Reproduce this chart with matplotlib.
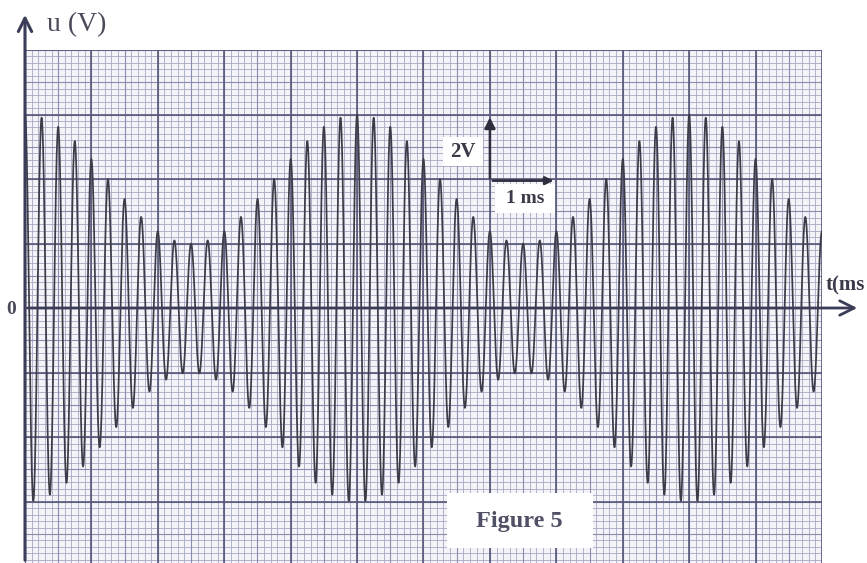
import numpy as np
import matplotlib
matplotlib.use("Agg")
import matplotlib.pyplot as plt
from matplotlib.patches import Rectangle

# ---- values ----
u_max = 6.0            # V, largest crest of the envelope
u_min = 2.0            # V, smallest crest of the envelope
carrier_period = 0.25  # ms (4 crests per major division)
mod_period = 5.0       # ms (envelope maxima at 0, 5, 10 ms)
t_end = 12.0           # ms, width of the paper
scale_v = 2.0          # V per major vertical division
scale_t = 1.0          # ms per major horizontal division

A = (u_max + u_min) / 2
m = (u_max - u_min) / (u_max + u_min)
t = np.linspace(0, t_end, 20000)
u = A * (1 + m * np.cos(2 * np.pi * t / mod_period)) * np.cos(2 * np.pi * t / carrier_period)

W, H = 867, 563
fig = plt.figure(figsize=(W / 100, H / 100), dpi=100)
fig.patch.set_facecolor("white")
ax = fig.add_axes([25 / W, 0, 797 / W, 513 / H])
ax.set_xlim(0, t_end)
ax.set_ylim(-7.9, 8)
ax.set_facecolor("#f4f3f8")
for s in ax.spines.values():
    s.set_visible(False)
ax.set_xticks([]); ax.set_yticks([])

# graph paper
xs_minor = np.arange(0, t_end + 1e-9, 0.1)
ys_minor = np.arange(-8, 8 + 1e-9, 0.2)
ax.vlines(xs_minor, -8, 8, color="#a6a8c4", lw=0.6, zorder=1)
ax.hlines(ys_minor, 0, t_end, color="#a6a8c4", lw=0.6, zorder=1)
ax.vlines(np.arange(0, t_end + 1e-9, 0.5), -8, 8, color="#8a8cae", lw=0.8, zorder=1)
ax.hlines(np.arange(-8, 8 + 1e-9, 1.0), 0, t_end, color="#8a8cae", lw=0.8, zorder=1)
ax.vlines(np.arange(0, t_end + 1e-9, 1.0), -8, 8, color="#555878", lw=1.2, zorder=1)
ax.hlines(np.arange(-8, 8 + 1e-9, 2.0), 0, t_end, color="#555878", lw=1.2, zorder=1)

# signal
ax.plot(t, u, color="#3c3c48", lw=1.25, zorder=3)

# scale marker
ax.annotate("", xy=(7.0, 6.0), xytext=(7.0, 3.95),
            arrowprops=dict(arrowstyle="-|>", lw=1.8, color="#2e2e3e", mutation_scale=16), zorder=6)
ax.annotate("", xy=(8.0, 3.95), xytext=(7.0, 3.95),
            arrowprops=dict(arrowstyle="-|>", lw=1.8, color="#2e2e3e", mutation_scale=12), zorder=6)
ax.add_patch(Rectangle((6.3, 4.4), 0.6, 0.9, facecolor="white", edgecolor="none", zorder=5))
ax.text(6.6, 4.84, "%gV" % scale_v, ha="center", va="center", fontsize=15, fontweight="bold",
        family="Liberation Serif", color="#3a3a48", zorder=7)
ax.add_patch(Rectangle((7.08, 2.95), 0.9, 0.9, facecolor="white", edgecolor="none", zorder=5))
ax.text(7.53, 3.4, "%g ms" % scale_t, ha="center", va="center", fontsize=14, fontweight="bold",
        family="Liberation Serif", color="#3a3a48", zorder=7)

# figure label box
ax.add_patch(Rectangle((6.35, -7.44), 2.2, 1.71, facecolor="white", edgecolor="none", zorder=5))
ax.text(7.45, -6.6, "Figure 5", ha="center", va="center", fontsize=17.5, fontweight="bold",
        family="Liberation Serif", color="#505066", zorder=7)

# overlay in pixel coordinates for the axes arrows
ov = fig.add_axes([0, 0, 1, 1], zorder=10)
ov.set_xlim(0, W); ov.set_ylim(H, 0); ov.axis("off")
ov.patch.set_alpha(0)
ov.annotate("", xy=(860, 308), xytext=(25, 308),
            arrowprops=dict(arrowstyle="->", lw=2.0, color="#3a3c58", mutation_scale=26))
ov.annotate("", xy=(25, 12), xytext=(25, H),
            arrowprops=dict(arrowstyle="->", lw=2.2, color="#3a3c58", mutation_scale=24))
ov.text(47, 25, "u (V)", ha="left", va="center", fontsize=20, family="Liberation Serif", color="#4a4a5a")
ov.text(826, 285, "t(ms", ha="left", va="center", fontsize=15, fontweight="bold",
        family="Liberation Serif", color="#3a3a4a")
ov.text(11, 310, "0", ha="center", va="center", fontsize=14, fontweight="bold",
        family="Liberation Serif", color="#4a4a5a")

fig.savefig("out.png", dpi=100)
